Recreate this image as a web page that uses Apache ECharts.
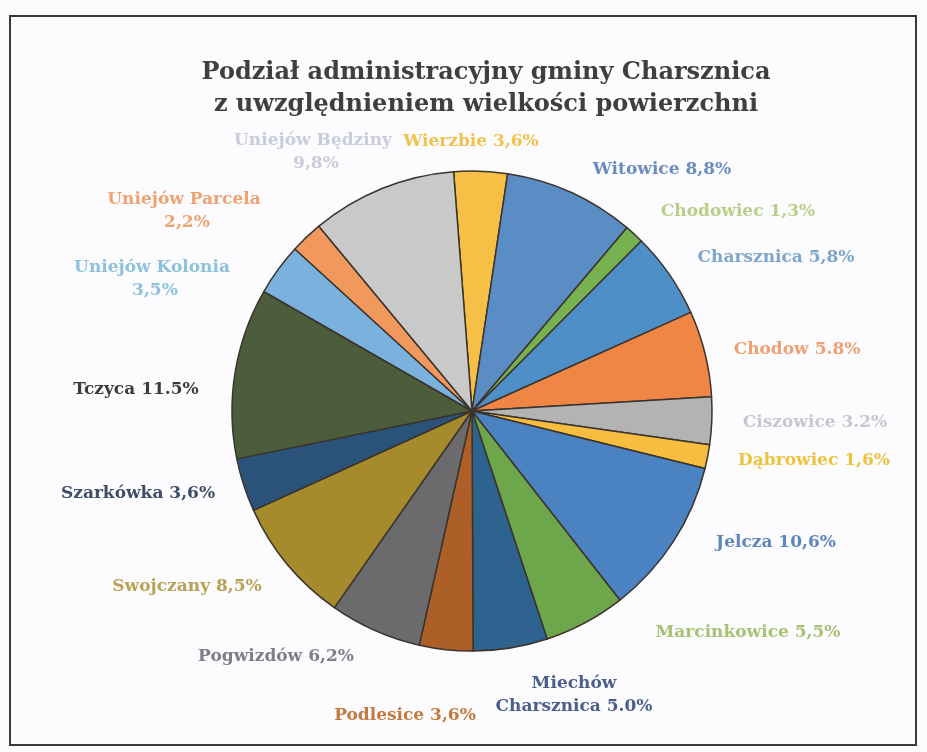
<!DOCTYPE html>
<html>
<head>
<meta charset="utf-8">
<script src="https://cdn.jsdelivr.net/npm/echarts@6/dist/echarts.min.js"></script>
<style>
  html, body { margin: 0; padding: 0; background: #fcfbfd; }
  #chart { width: 927px; height: 752px; }
</style>
</head>
<body>
<div id="chart"></div>
<script>
// sołectwa, clockwise from the top
const names = [
  'Wierzbie', 'Witowice', 'Chodowiec', 'Charsznica', 'Chodow', 'Ciszowice',
  'Dąbrowiec', 'Jelcza', 'Marcinkowice', 'Miechów\nCharsznica', 'Podlesice',
  'Pogwizdów', 'Swojczany', 'Szarkówka', 'Tczyca', 'Uniejów Kolonia\n',
  'Uniejów Parcela\n', 'Uniejów Będziny\n'
]
const shares = [3.6, 8.8, 1.3, 5.8, 5.8, 3.2, 1.6, 10.6, 5.5, 5.0, 3.6, 6.2, 8.5, 3.6, 11.5, 3.5, 2.2, 9.8]
const decimalSep = [',', ',', ',', ',', '.', '.', ',', ',', ',', '.', ',', ',', ',', ',', '.', ',', ',', ',']

const sliceColors = [
  '#f6bf45', '#5b8dc5', '#78b250', '#4f8fc8', '#ef8646', '#b3b3b3',
  '#f6bd3e', '#4b82c2', '#6ea64c', '#2e628f', '#ad5f28', '#6b6b6d',
  '#a68b2c', '#2b5279', '#4b5d3b', '#7bb2dd', '#f1985c', '#c9c9c9'
]
const labelColors = [
  '#f2c24e', '#6a8cc0', '#b7cf86', '#7da6c9', '#efa070', '#c6c8d0',
  '#eec23c', '#5e86ba', '#a8c274', '#4a5f8c', '#c47a3e', '#7e7e86',
  '#b9a256', '#3e4d68', '#3c3c38', '#8cc2dc', '#f0a270', '#c9ccda'
]
// label anchor points (centre of each text block)
const labelAt = [
  [471, 142], [662, 170], [738, 212], [776, 258], [797, 350], [815, 423],
  [814, 461], [776, 543], [748, 633], [574, 695], [405, 716], [276, 657],
  [187, 587], [138, 494], [136, 390], [152, 279], [184, 211], [313, 152]
]

const chart = echarts.init(document.getElementById('chart'))
const fontFamily = '"DejaVu Serif", serif'

const option = {
  backgroundColor: '#fcfbfd',
  title: {
    text: 'Podział administracyjny gminy Charsznica\nz uwzględnieniem wielkości powierzchni',
    left: 481,
    textAlign: 'center',
    top: 52,
    textStyle: {
      fontFamily,
      fontWeight: 'bold',
      fontSize: 24,
      lineHeight: 32,
      color: '#3f3f3f'
    }
  },
  graphic: [
    {
      type: 'rect',
      shape: { x: 10, y: 16, width: 906, height: 729 },
      style: { fill: 'none', stroke: '#3a3a3a', lineWidth: 2 },
      silent: true
    }
  ],
  series: [
    {
      type: 'pie',
      center: [472, 411],
      radius: 240,
      startAngle: 94.4,
      clockwise: true,
      avoidLabelOverlap: false,
      itemStyle: { borderColor: '#3b342e', borderWidth: 1.5 },
      label: {
        show: true,
        position: 'outside',
        fontFamily,
        fontWeight: 'bold',
        fontSize: 17,
        lineHeight: 23,
        align: 'center',
        formatter: (p) => {
          const i = p.dataIndex
          return names[i] + ' ' + shares[i].toFixed(1).replace('.', decimalSep[i]) + '%'
        }
      },
      labelLine: { show: false },
      labelLayout: (params) => {
        const [x, y] = labelAt[params.dataIndex]
        return { x, y, align: 'center', verticalAlign: 'middle' }
      },
      emphasis: { disabled: true },
      data: names.map((n, i) => ({
        name: n,
        value: shares[i],
        itemStyle: { color: sliceColors[i] },
        label: { color: labelColors[i] }
      }))
    }
  ]
}
chart.setOption(option)
</script>
</body>
</html>
